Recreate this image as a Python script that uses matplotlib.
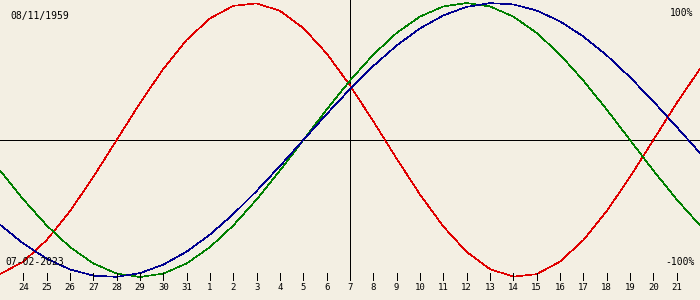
import matplotlib
matplotlib.use("Agg")
import matplotlib.pyplot as plt

# days around the current date (0 = 07-02-2023)
days = list(range(-15, 16))
tick_days = list(range(-14, 15))
tick_labels = ["24", "25", "26", "27", "28", "29", "30", "31", "1", "2", "3", "4", "5", "6", "7",
               "8", "9", "10", "11", "12", "13", "14", "15", "16", "17", "18", "19", "20", "21"]

physical = [-0.9791, -0.8879, -0.7308, -0.5196, -0.2698, 0.0, 0.2698, 0.5196, 0.7308, 0.8879,
            0.9791, 0.9977, 0.9423, 0.8170, 0.6311, 0.3984, 0.1362, -0.1362, -0.3984, -0.6311,
            -0.8170, -0.9423, -0.9977, -0.9791, -0.8879, -0.7308, -0.5196, -0.2698, 0.0, 0.2698,
            0.5196]
emotional = [-0.2225, -0.4339, -0.6235, -0.7818, -0.9010, -0.9749, -1.0, -0.9749, -0.9010, -0.7818,
             -0.6235, -0.4339, -0.2225, 0.0, 0.2225, 0.4339, 0.6235, 0.7818, 0.9010, 0.9749,
             1.0, 0.9749, 0.9010, 0.7818, 0.6235, 0.4339, 0.2225, 0.0, -0.2225, -0.4339,
             -0.6235]
intellectual = [-0.6182, -0.7557, -0.8660, -0.9450, -0.9898, -0.9989, -0.9718, -0.9096, -0.8146, -0.6901,
                -0.5406, -0.3717, -0.1893, 0.0, 0.1893, 0.3717, 0.5406, 0.6901, 0.8146, 0.9096,
                0.9718, 0.9989, 0.9898, 0.9450, 0.8660, 0.7557, 0.6182, 0.4582, 0.2817, 0.0951,
                -0.0951]

birth_date = "08/11/1959"
current_date = "07-02-2023"

bg = "#f3efe3"
fig = plt.figure(figsize=(7, 3), dpi=100, facecolor=bg)
ax = fig.add_axes([0, 0, 1, 1])
ax.set_facecolor(bg)
ax.set_xlim(-15, 15)
ax.set_ylim(-160 / 137, 140 / 137)
ax.axis("off")

lw = 0.6
ax.axhline(0, color="black", lw=lw, antialiased=False)
ax.vlines(0, -1.022, 1.1, color="black", lw=lw, antialiased=False)

clw = 0.45
ax.plot(days, physical, color="#e00000", lw=clw, antialiased=False)
ax.plot(days, emotional, color="#008000", lw=clw, antialiased=False)
ax.plot(days, intellectual, color="#000090", lw=clw, antialiased=False)

ax.vlines(tick_days, -1.022, -0.971, color="black", lw=lw, antialiased=False)
for d, lab in zip(tick_days, tick_labels):
    ax.text(d, -1.08, lab, ha="center", va="center", fontsize=6.5, family="DejaVu Sans Mono")

font = dict(fontsize=7, family="DejaVu Sans Mono")
ax.text(10, 300 - 16, birth_date, transform=None, ha="left", va="center", **font)
ax.text(5, 300 - 262, current_date, transform=None, ha="left", va="center", **font)
ax.text(693, 300 - 13, "100%", transform=None, ha="right", va="center", **font)
ax.text(695, 300 - 262, "-100%", transform=None, ha="right", va="center", **font)

fig.savefig("out.png", dpi=100, facecolor=bg)
